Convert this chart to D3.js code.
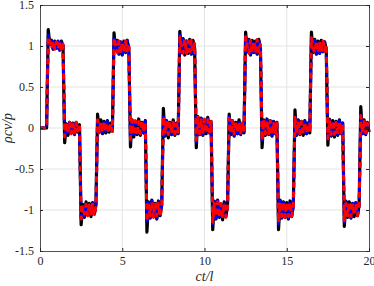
<!DOCTYPE html>
<html>
<head>
<meta charset="utf-8">
<script src="https://cdn.jsdelivr.net/npm/d3@7"></script>
<style>
  body { margin: 0; background: #fff; }
  .axis text { font-family: "Liberation Serif", serif; font-size: 12px; fill: #262626; }
  .axis path, .axis line { stroke: #262626; }
  .grid line { stroke: #e3e3e3; }
  .lbl { font-family: "Liberation Serif", serif; font-style: italic; font-size: 14px; fill: #262626; }
</style>
</head>
<body>
<svg id="vis" width="374" height="286"></svg>
<script>
// sample times ct/l
var ct = [0,0.1,0.2,0.3,0.4,0.5,0.6,0.7,0.8,0.9,1,1.1,1.2,1.3,1.4,1.5,1.6,1.7,1.8,1.9,2,2.1,2.2,2.3,2.4,2.5,2.6,2.7,2.8,2.9,3,3.1,3.2,3.3,3.4,3.5,3.6,3.7,3.8,3.9,
4,4.1,4.2,4.3,4.4,4.5,4.6,4.7,4.8,4.9,5,5.1,5.2,5.3,5.4,5.5,5.6,5.7,5.8,5.9,6,6.1,6.2,6.3,6.4,6.5,6.6,6.7,6.8,6.9,7,7.1,7.2,7.3,7.4,7.5,7.6,7.7,7.8,7.9,
8,8.1,8.2,8.3,8.4,8.5,8.6,8.7,8.8,8.9,9,9.1,9.2,9.3,9.4,9.5,9.6,9.7,9.8,9.9,10,10.1,10.2,10.3,10.4,10.5,10.6,10.7,10.8,10.9,11,11.1,11.2,11.3,11.4,11.5,11.6,11.7,11.8,11.9,
12,12.1,12.2,12.3,12.4,12.5,12.6,12.7,12.8,12.9,13,13.1,13.2,13.3,13.4,13.5,13.6,13.7,13.8,13.9,14,14.1,14.2,14.3,14.4,14.5,14.6,14.7,14.8,14.9,15,15.1,15.2,15.3,15.4,15.5,15.6,15.7,15.8,15.9,
16,16.1,16.2,16.3,16.4,16.5,16.6,16.7,16.8,16.9,17,17.1,17.2,17.3,17.4,17.5,17.6,17.7,17.8,17.9,18,18.1,18.2,18.3,18.4,18.5,18.6,18.7,18.8,18.9,19,19.1,19.2,19.3,19.4,19.5,19.6,19.7,19.8,19.9,20];

// black (thick solid)
var blackVals = [0,0,0,0,0,
1.20,1.02,1.07,0.96,1.06,0.97,1.05,0.95,1.06,1.00,
-0.18,0.05,-0.09,0.07,-0.06,0.06,-0.08,0.07,-0.05,0.04,
-1.18,-0.93,-1.09,-0.90,-1.06,-0.92,-1.08,-0.91,-1.05,-0.94,
0.17,-0.05,0.10,-0.07,0.08,-0.06,0.09,-0.05,0.06,-0.04,
1.16,0.95,1.07,0.90,1.05,0.89,1.06,0.92,1.07,0.96,
-0.23,0.10,-0.11,0.08,-0.08,0.11,-0.09,0.07,-0.06,0.09,
-1.27,-0.90,-1.10,-0.88,-1.08,-0.92,-1.11,-0.89,-1.07,-0.93,
0.24,-0.10,0.09,-0.12,0.07,-0.08,0.10,-0.09,0.06,-0.07,
1.18,0.92,1.09,0.89,1.06,0.91,1.08,0.90,1.07,0.97,
-0.24,0.14,-0.08,0.12,-0.09,0.10,-0.07,0.13,-0.06,0.08,
-1.24,-0.89,-1.11,-0.88,-1.09,-0.93,-1.12,-0.90,-1.08,-0.95,
0.17,-0.08,0.09,-0.10,0.07,-0.07,0.10,-0.08,0.05,-0.06,
1.17,0.93,1.08,0.89,1.07,0.92,1.06,0.90,1.08,0.96,
-0.24,0.10,-0.09,0.11,-0.08,0.09,-0.10,0.08,-0.07,0.07,
-1.24,-0.88,-1.10,-0.90,-1.09,-0.91,-1.11,-0.89,-1.08,-0.94,
0.22,-0.09,0.10,-0.08,0.08,-0.09,0.09,-0.07,0.06,-0.06,
1.17,0.92,1.08,0.90,1.06,0.91,1.07,0.93,1.05,0.96,
-0.21,0.11,-0.10,0.09,-0.11,0.08,-0.09,0.10,-0.07,0.06,
-1.20,-0.89,-1.09,-0.90,-1.10,-0.92,-1.08,-0.91,-1.07,-0.94,
0.26,-0.07,0.10,-0.08,0.07,-0.05];

// blue (dashed)
var blueVals = [0,0,0,0,0,
1.13,0.99,1.06,0.96,1.05,0.97,1.06,0.95,1.05,1.01,
-0.13,0.05,-0.08,0.06,-0.06,0.07,-0.07,0.06,-0.05,0.04,
-1.13,-0.94,-1.07,-0.92,-1.06,-0.93,-1.07,-0.92,-1.05,-0.96,
0.11,-0.05,0.08,-0.06,0.07,-0.06,0.08,-0.05,0.06,-0.04,
1.11,0.95,1.06,0.91,1.05,0.90,1.06,0.93,1.07,0.98,
-0.16,0.09,-0.10,0.07,-0.08,0.10,-0.09,0.06,-0.06,0.08,
-1.16,-0.91,-1.09,-0.89,-1.07,-0.92,-1.10,-0.90,-1.06,-0.95,
0.16,-0.09,0.08,-0.10,0.06,-0.08,0.09,-0.08,0.06,-0.06,
1.13,0.93,1.08,0.90,1.06,0.92,1.07,0.91,1.06,0.98,
-0.17,0.12,-0.08,0.11,-0.08,0.09,-0.07,0.11,-0.06,0.07,
-1.17,-0.90,-1.10,-0.89,-1.08,-0.93,-1.10,-0.91,-1.07,-0.96,
0.13,-0.08,0.08,-0.09,0.07,-0.07,0.09,-0.07,0.05,-0.06,
1.12,0.93,1.07,0.90,1.06,0.92,1.06,0.91,1.07,0.97,
-0.17,0.09,-0.08,0.10,-0.08,0.08,-0.09,0.08,-0.07,0.06,
-1.17,-0.89,-1.09,-0.91,-1.08,-0.92,-1.10,-0.90,-1.07,-0.95,
0.15,-0.08,0.09,-0.08,0.07,-0.08,0.08,-0.07,0.06,-0.06,
1.12,0.92,1.07,0.91,1.06,0.91,1.06,0.93,1.05,0.97,
-0.15,0.10,-0.09,0.08,-0.10,0.08,-0.08,0.09,-0.07,0.06,
-1.15,-0.90,-1.08,-0.91,-1.09,-0.92,-1.07,-0.91,-1.06,-0.95,
0.17,-0.07,0.09,-0.07,0.07,-0.05];

// red (dashed, on top)
var redVals = [0,0,0,0,0,
1.11,1.04,0.97,1.06,0.96,1.05,0.97,1.06,0.96,1.02,
-0.11,0.07,-0.06,0.07,-0.07,0.05,-0.06,0.07,-0.04,0.05,
-1.11,-0.96,-1.05,-0.93,-1.07,-0.94,-1.05,-0.93,-1.07,-0.95,
0.10,-0.06,0.07,-0.05,0.08,-0.05,0.06,-0.06,0.05,-0.04,
1.10,1.01,0.92,1.06,0.91,1.05,0.92,1.06,0.94,1.03,
-0.14,0.10,-0.08,0.09,-0.09,0.08,-0.07,0.09,-0.05,0.07,
-1.14,-0.94,-1.07,-0.90,-1.09,-0.91,-1.07,-0.92,-1.08,-0.96,
0.14,-0.07,0.09,-0.08,0.08,-0.07,0.07,-0.07,0.05,-0.05,
1.11,0.98,0.91,1.08,0.91,1.06,0.93,1.07,0.93,1.03,
-0.15,0.13,-0.07,0.10,-0.07,0.11,-0.06,0.10,-0.05,0.08,
-1.15,-0.92,-1.08,-0.90,-1.09,-0.92,-1.08,-0.92,-1.09,-0.96,
0.12,-0.07,0.09,-0.07,0.08,-0.06,0.07,-0.06,0.06,-0.05,
1.11,0.99,0.91,1.07,0.92,1.06,0.92,1.08,0.93,1.02,
-0.15,0.10,-0.07,0.09,-0.07,0.09,-0.08,0.07,-0.06,0.06,
-1.15,-0.91,-1.08,-0.90,-1.09,-0.91,-1.08,-0.91,-1.08,-0.96,
0.13,-0.07,0.08,-0.07,0.08,-0.07,0.07,-0.06,0.05,-0.05,
1.10,0.98,0.92,1.06,0.92,1.05,0.93,1.06,0.94,1.02,
-0.13,0.09,-0.08,0.09,-0.08,0.07,-0.07,0.08,-0.06,0.05,
-1.13,-0.92,-1.07,-0.91,-1.08,-0.92,-1.06,-0.92,-1.07,-0.96,
0.15,-0.06,0.08,-0.06,0.06,-0.04];

var xTicks = [0, 5, 10, 15, 20];
var yTicks = [-1.5, -1, -0.5, 0, 0.5, 1, 1.5];
var yTickLabels = ["-1.5", "-1", "-0.5", "0", "0.5", "1", "1.5"];

var svg = d3.select("#vis"),
  margin = {top: 5, right: 5, bottom: 35, left: 40},
  width = 374, height = 286;

var x = d3.scaleLinear().domain([0, 20]).range([margin.left, width - margin.right]);
var y = d3.scaleLinear().domain([-1.5, 1.5]).range([height - margin.bottom, margin.top]);

// grid
svg.append("g").attr("class", "grid")
  .selectAll("line.gx").data(xTicks.slice(1, -1)).enter().append("line")
  .attr("x1", function(d) { return x(d); }).attr("x2", function(d) { return x(d); })
  .attr("y1", y(-1.5)).attr("y2", y(1.5));
svg.select(".grid")
  .selectAll("line.gy").data(yTicks.slice(1, -1)).enter().append("line")
  .attr("y1", function(d) { return y(d); }).attr("y2", function(d) { return y(d); })
  .attr("x1", x(0)).attr("x2", x(20));

var plot = svg.append("g");

function lineFor(vals) {
  return d3.line()
    .x(function(d, i) { return x(ct[i]); })
    .y(function(d) { return y(d); })(vals);
}

plot.append("path").attr("d", lineFor(blackVals))
  .attr("fill", "none").attr("stroke", "#000").attr("stroke-width", 3.2).attr("stroke-linejoin", "round");
plot.append("path").attr("d", lineFor(blueVals))
  .attr("fill", "none").attr("stroke", "#0000ff").attr("stroke-width", 3)
  .attr("stroke-dasharray", "5,3").attr("stroke-linejoin", "round");
plot.append("path").attr("d", lineFor(redVals))
  .attr("fill", "none").attr("stroke", "#ff0000").attr("stroke-width", 3)
  .attr("stroke-dasharray", "6,4").attr("stroke-linejoin", "round");

// axes (ticks inward, box)
var xAxis = d3.axisBottom(x).tickValues(xTicks).tickSize(-3).tickPadding(5).tickFormat(d3.format("d"));
var yAxis = d3.axisLeft(y).tickValues(yTicks).tickSize(-3).tickPadding(6)
  .tickFormat(function(d, i) { return yTickLabels[i]; });

svg.append("g").attr("class", "axis").attr("transform", "translate(0," + y(-1.5) + ")").call(xAxis);
svg.append("g").attr("class", "axis").attr("transform", "translate(" + x(0) + ",0)").call(yAxis);
svg.append("g").attr("class", "axis").attr("transform", "translate(0," + y(1.5) + ")")
  .call(d3.axisTop(x).tickValues(xTicks).tickSize(-3).tickFormat(""));
svg.append("g").attr("class", "axis").attr("transform", "translate(" + x(20) + ",0)")
  .call(d3.axisRight(y).tickValues(yTicks).tickSize(-3).tickFormat(""));
svg.selectAll(".axis path").attr("stroke-width", 0.8);

// labels
svg.append("text").attr("class", "lbl")
  .attr("x", (x(0) + x(20)) / 2).attr("y", 281).attr("text-anchor", "middle").text("ct/l");
svg.append("text").attr("class", "lbl")
  .attr("transform", "translate(12," + y(0) + ") rotate(-90)")
  .attr("text-anchor", "middle").text("ρcv/p");
</script>
</body>
</html>
